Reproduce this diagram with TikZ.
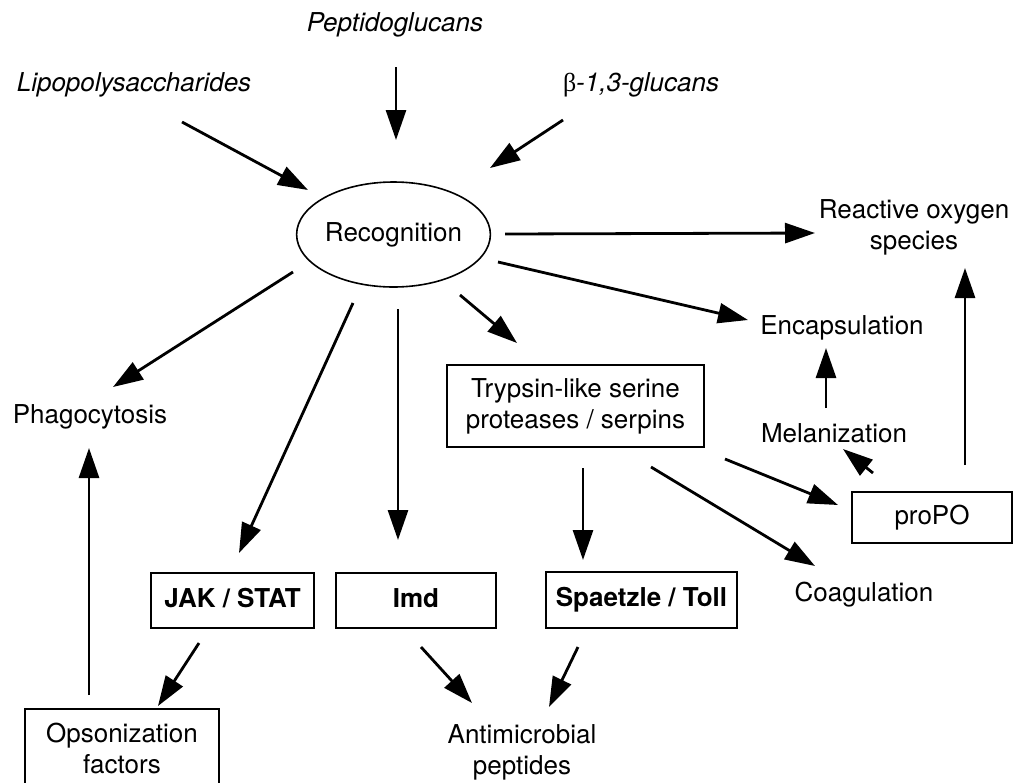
\documentclass[tikz,border=0pt]{standalone}
\usepackage{fontspec}
\setmainfont{TeX Gyre Heros}
\newfontfamily\greekfont{Liberation Serif}
\usetikzlibrary{arrows.meta}
\usetikzlibrary{shapes.geometric}

\tikzset{
  Link/.style={line width=1.4pt, -{Triangle[length=15pt,width=10pt]}},
  Pathway/.style={draw, line width=0.9pt, inner sep=0pt, align=center},
  Oneline/.style={text height=9.4pt, text depth=2.7pt},
}

\begin{document}
\begin{tikzpicture}[x=0.5pt,y=-0.5pt,font=\fontsize{13pt}{15.5pt}\selectfont]
\useasboundingbox (0,0) rectangle (1015,782);

% Signaux
\node (pep) at (395,25) {\itshape Peptidoglucans};
\node (lps) at (134,85) {\itshape Lipopolysaccharides};
\node (glu) at (641,85) {{\greekfont β}\itshape -1,3-glucans};

% Reconnaissance
\node[draw, ellipse, line width=0.8pt, minimum width=89.5pt, minimum height=52.5pt, inner sep=0pt] (rec) at (393.5,234.5) {Recognition};

% Reponses
\node[align=center] (ros) at (914,227) {Reactive oxygen\\species};
\node (enc) at (842,328) {Encapsulation};
\node (mel) at (834,433) {Melanization};
\node (phag) at (90,417) {Phagocytosis};
\node (coag) at (864,595) {Coagulation};
\node[align=center] (amp) at (522,752) {Antimicrobial\\peptides};

% Boites
\node[Pathway, minimum width=128.5pt, minimum height=41pt] (tryp) at (575.5,406) {Trypsin-like serine\\proteases / serpins};
\node[Pathway, Oneline, minimum width=80pt, minimum height=25.5pt] (propo) at (932,517.5) {proPO};
\node[Pathway, Oneline, minimum width=81.5pt, minimum height=27.5pt] (jak) at (232.5,600.5) {\textbf{JAK / STAT}};
\node[Pathway, Oneline, minimum width=80pt, minimum height=27.5pt] (imd) at (416,600.5) {\textbf{Imd}};
\node[Pathway, Oneline, minimum width=95.5pt, minimum height=28pt] (spa) at (641.5,600) {\textbf{Spaetzle / Toll}};
\node[Pathway, minimum width=97pt, minimum height=39pt] (ops) at (122,748) {Opsonization\\factors};

% Entrees
\draw[Link] ([shift={(48,37)}]lps.center) -- ([shift={(-85.5,-44.5)}]rec.center);
\draw[Link] ([shift={(1,42)}]pep.center) -- ([shift={(2.5,-94.5)}]rec.center);
\draw[Link] ([shift={(-78,35)}]glu.center) -- ([shift={(96.5,-66.5)}]rec.center);

% Depuis la reconnaissance
\draw[Link] ([shift={(111.5,-0.5)}]rec.center) -- ([shift={(-99,6)}]ros.center);
\draw[Link] ([shift={(104.5,27.5)}]rec.center) -- ([shift={(-94,-8)}]enc.center);
\draw[Link] ([shift={(-100.5,37.5)}]rec.center) -- ([shift={(23,-30)}]phag.center);
\draw[Link] ([shift={(-40.5,68.5)}]rec.center) -- ([shift={(6.5,-47.5)}]jak.center);
\draw[Link] ([shift={(4.5,74.5)}]rec.center) -- ([shift={(-18,-60.5)}]imd.center);
\draw[Link] ([shift={(66.5,60.5)}]rec.center) -- ([shift={(-58.5,-63)}]tryp.center);

% Proteases
\draw[Link] ([shift={(7.5,62)}]tryp.center) -- ([shift={(-58.5,-40)}]spa.center);
\draw[Link] ([shift={(75.5,61)}]tryp.center) -- ([shift={(-49,-29)}]coag.center);
\draw[Link] ([shift={(149.5,53)}]tryp.center) -- ([shift={(-94,-12.5)}]propo.center);

% proPO
\draw[Link] ([shift={(-59,-44.5)}]propo.center) -- ([shift={(9,16)}]mel.center);
\draw[Link] ([shift={(-8,-25)}]mel.center) -- ([shift={(-16,20)}]enc.center);
\draw[Link] ([shift={(33,-52.5)}]propo.center) -- ([shift={(51,41)}]ros.center);

% Voies du bas
\draw[Link] ([shift={(-33.5,42.5)}]jak.center) -- ([shift={(36,-42)}]ops.center);
\draw[Link] ([shift={(-33,-53)}]ops.center) -- ([shift={(-1,31)}]phag.center);
\draw[Link] ([shift={(5,46.5)}]imd.center) -- ([shift={(-50,-49)}]amp.center);
\draw[Link] ([shift={(-63.5,47)}]spa.center) -- ([shift={(27,-45)}]amp.center);
\end{tikzpicture}
\end{document}
